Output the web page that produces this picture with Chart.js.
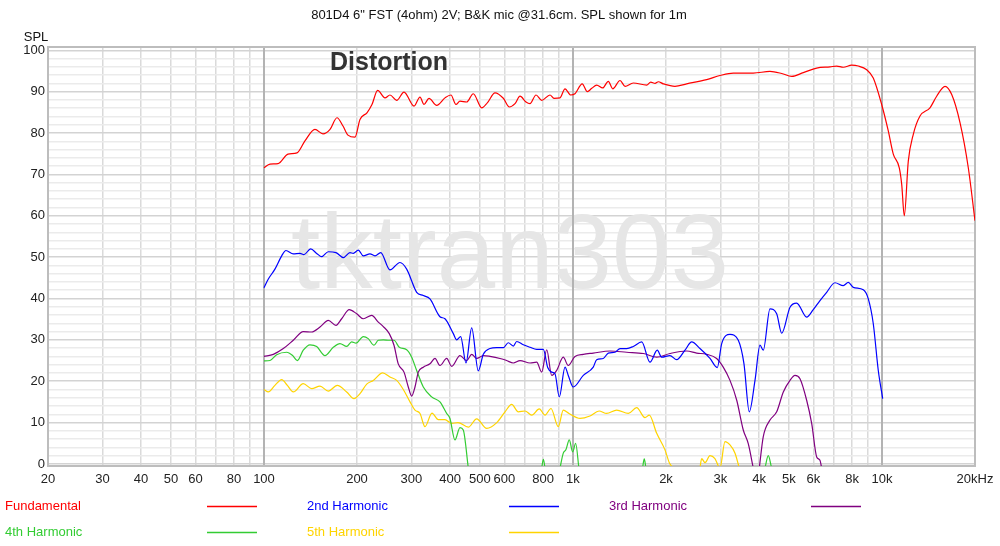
<!DOCTYPE html>
<html lang="en">
<head>
<meta charset="utf-8">
<title>801D4 distortion</title>
<script src="https://cdn.jsdelivr.net/npm/chart.js"></script>
<style>
  body { margin: 0; background: #fff; overflow: hidden; }
  #chart { display: block; }
</style>
</head>
<body>
<canvas id="chart" width="1000" height="546"></canvas>
<script>
// values: frequency in Hz, level in dB SPL
const freqFund = [100,104.6,111,119.6,127.9,135.7,146.2,155.2,163.6,172.3,180.2,187,197,204.5,215.4,223.6,233.3,246.4,255.7,268.8,283.9,305.9,319.8,329.5,342,362.2,385.2,402.8,418.1,430.8,452.9,475.7,506.5,528.1,559.3,595,622.2,649.2,673.9,704.6,725.9,759.2,792.1,842.5,868,907.8,942.3,983.1,1015,1071,1113,1150,1193,1248,1301,1345,1420,1474,1567,1732,1785,1843,1889,1960,2138,2333,2708,2990,3303,3832,4341,4737,5103,5564,6147,6787,7136,7496,7980,8382,8924,9372,9977,10481,10879,11377,11583,11809,12166,12629,13275,14300,15031,15995,16814,17885,19026,20000];
const splFund = [71.6,72.5,72.6,74.9,75.2,78.1,80.9,79.8,80.9,83.7,81.7,79.5,79.0,83.3,84.9,86.9,90.3,88.5,89.2,87.9,89.9,86.5,88.7,86.9,88.4,86.7,88.5,89.2,86.9,87.7,87.5,89.5,86.1,87.3,89.7,88.4,86.3,87.1,88.9,87.5,87.1,89.2,87.9,89.2,88.4,88.5,90.7,89.2,89.5,91.9,90.0,90.8,91.6,90.9,92.5,90.7,92.7,91.3,92.1,91.6,92.3,92.0,92.4,91.9,91.3,91.9,92.9,93.9,94.5,94.5,94.9,94.4,93.7,94.6,95.7,96.0,96.2,95.9,96.4,96.2,95.3,93.3,86.9,80.5,74.9,71.6,67.6,60.0,73.2,79.7,84.1,86.1,88.9,91.3,89.3,82.5,71.6,58.8];

const freq2nd = [100,103.3,108.5,114.1,117.8,124.4,130.8,134.7,141.6,148.1,153.7,161.5,171.0,180.6,189.8,194.5,202.0,209.6,220.3,228.7,238.6,255.7,275.5,289.6,312.0,327.8,344.5,371.1,385.2,410.0,420.5,433.1,450.6,470.1,493.8,512.6,538.8,566.7,595.0,617.5,641.0,657.4,690.6,725.9,763.0,801.6,828.3,853.4,874.6,903.2,942.3,965.5,1002,1080,1163,1193,1253,1301,1367,1420,1492,1567,1669,1775,1874,1937,2060,2166,2304,2422,2576,2776,2931,3029,3222,3428,3576,3720,3882,4029,4129,4341,4563,4737,5039,5296,5705,5993,6300,6622,7046,7496,7780,8074,8700,9031,9372,9728,10053];
const spl2nd = [42.6,44.7,47.1,50.3,51.6,50.8,50.9,50.6,52.0,50.9,50.1,51.3,51.1,49.9,51.1,50.9,51.7,50.3,50.8,50.3,51.1,46.9,48.7,47.1,41.5,40.7,39.9,35.6,35.1,31.5,30.0,30.8,24.4,32.9,22.5,26.5,27.9,28.1,28.1,29.3,28.5,29.6,28.8,28.2,27.7,27.7,23.3,22.2,21.8,16.2,23.4,21.4,18.6,21.4,23.4,25.2,25.5,26.8,27.0,27.9,27.9,28.4,29.5,24.6,27.5,25.8,26.2,25.2,27.5,29.5,27.9,25.5,23.3,29.1,31.3,29.9,24.2,12.6,20.2,28.7,27.5,37.5,36.3,31.6,37.9,38.9,35.5,37.3,39.5,41.5,43.8,43.1,43.9,42.7,42.1,39.9,33.9,22.6,15.8];

const freq3rd = [100,107.2,115.5,124.4,134.0,142.7,151.8,161.5,171.0,178.4,188.8,199.5,209.6,223.1,234.4,243.3,254.4,263.5,272.0,283.9,293.1,300.6,308.1,315.8,327.8,344.5,357.6,371.1,390.2,405.0,430.8,452.9,470.1,487.9,512.6,538.8,580.5,610.2,641.0,673.9,725.9,763.0,792.1,822.2,853.4,885.6,930.2,965.5,1015,1080,1163,1317,1492,1689,1866,2060,2333,2513,2708,2917,3064,3222,3388,3557,3692,3832,3920,4008,4129,4341,4563,4794,5039,5230,5428,5705,5922,6147,6300,6380];
const spl3rd = [26.0,26.5,27.9,29.9,32.0,31.9,33.1,34.7,33.5,35.1,37.3,36.3,35.1,35.9,34.3,33.2,31.5,28.7,24.2,22.2,18.6,16.4,18.6,22.2,23.4,24.2,25.5,23.8,25.5,23.6,26.2,25.0,26.5,25.5,26.2,26.0,25.5,25.0,24.4,25.0,24.4,24.6,22.2,27.6,21.4,22.6,25.8,23.8,26.0,26.5,26.8,27.3,27.0,26.7,25.8,26.7,27.3,26.8,26.5,25.5,23.4,20.2,15.4,8.2,4.9,-1,null,-1,6.6,10.6,12.6,17.4,20.2,21.4,20.6,15.4,9.8,1.7,0.9,-1];

const freq4th = [100,104.6,109.9,118.4,123.8,128.2,134.0,140.9,148.1,157.5,167.6,176.2,185.2,192.2,198.5,209.6,217.5,227.0,234.4,243.3,254.4,263.5,274.1,289.6,300.6,312.0,327.8,348.9,371.1,390.2,399.8,415.0,430.8,441.6,458.4,630,792,802,812,860,907.8,930.2,949.1,972.7,997.8,1020,1045,1400,1679,1701,1722,3000,4181,4285,4395];
const spl4th = [24.9,25.0,26.4,27.0,26.2,25.0,27.5,28.8,28.4,26.2,28.2,29.1,28.4,29.5,29.2,30.8,30.3,28.7,29.9,30.0,29.9,29.9,28.2,27.6,25.8,22.6,18.6,16.2,15.0,12.2,11.0,5.8,8.8,8.2,-1,null,-1,1.1,-1,null,-1,2.6,3.5,5.8,2.9,5.0,-1,null,-1,1.2,-1,null,-1,2.0,-1];

const freq5th = [100,103.3,108.5,114.1,119.0,124.4,134.0,142.7,151.8,161.5,172.6,185.2,195.5,204.5,215.0,225.8,242.2,255.7,268.8,282.4,296.9,308.1,319.8,331.9,349.7,366.5,385.2,405.0,424.5,458.4,487.9,525.7,566.7,602.6,633.4,665.3,699.4,735.3,778.0,811.9,848.8,896.4,930.2,970.7,1054,1135,1214,1285,1385,1510,1607,1710,1766,1866,1985,2050,2111,2350,2576,2609,2674,2776,2880,2990,3104,3222,3345,3454];
const spl5th = [18.0,17.4,19.0,20.4,19.0,17.4,19.4,18.2,18.8,17.6,19.0,17.4,15.8,17.0,19.3,20.2,22.0,21.0,20.2,18.0,15.0,13.0,12.2,9.0,12.3,10.7,10.7,9.8,10.0,8.9,10.9,8.6,10.0,12.6,14.4,12.6,12.8,11.8,13.3,11.8,13.4,9.0,13.0,12.2,11.0,11.6,12.8,12.2,13.0,12.2,13.6,11.2,11.8,7.4,3.4,0.3,-1,null,-1,1.3,0.3,2.0,1.3,-1,5.4,4.6,2.6,-1];

const seriesNames = ['Fundamental', '2nd Harmonic', '3rd Harmonic', '4th Harmonic', '5th Harmonic'];
const seriesColors = ['#ff0000', '#0000ff', '#800080', '#33cc33', '#ffd400'];

// axis grid / labels
const xGridValues = [20,30,40,50,60,70,80,90,100,200,300,400,500,600,700,800,900,1000,2000,3000,4000,5000,6000,7000,8000,9000,10000,20000];
const xDecades = [100, 1000, 10000];
const xLabelValues = [20,30,40,50,60,80,100,200,300,400,500,600,800,1000,2000,3000,4000,5000,6000,8000,10000,20000];
const xLabelTexts = ['20','30','40','50','60','80','100','200','300','400','500','600','800','1k','2k','3k','4k','5k','6k','8k','10k','20kHz'];
const yLabelValues = [0,10,20,30,40,50,60,70,80,90,100];

const chartTitle = '801D4 6" FST (4ohm) 2V; B&K mic @31.6cm. SPL shown for 1m';
const yAxisName = 'SPL';
const overlayTitle = 'Distortion';
const watermark = 'tktran303';

const FONT = '"Liberation Sans", Arial, Helvetica, sans-serif';
Chart.defaults.font.family = FONT;
Chart.defaults.font.size = 13;
Chart.defaults.color = '#222';

function toPoints(freqs, levels) {
  return freqs.map((f, i) => ({ x: f, y: levels[i] }));
}

const allSeries = [
  [freqFund, splFund], [freq2nd, spl2nd], [freq3rd, spl3rd], [freq4th, spl4th], [freq5th, spl5th]
];

const datasets = allSeries.map((s, i) => ({
  label: seriesNames[i],
  data: toPoints(s[0], s[1]),
  borderColor: seriesColors[i],
  backgroundColor: seriesColors[i],
  borderWidth: 1.2,
  pointRadius: 0,
  fill: false,
  spanGaps: false,
  cubicInterpolationMode: 'monotone'
}));

const yGridValues = [];
for (let v = 0; v <= 100; v += 2) yGridValues.push(v);

const decorations = {
  id: 'decorations',
  beforeDatasetsDraw(chart) {
    const ctx = chart.ctx, a = chart.chartArea;
    const xs = chart.scales.x;
    ctx.save();
    // watermark behind the curves
    ctx.fillStyle = '#e6e6e6';
    ctx.font = '105px ' + FONT;
    ctx.textBaseline = 'alphabetic';
    ctx.textAlign = 'left';
    ctx.fillText(watermark, 291, 288);
    // decade lines on top of the dB grid
    ctx.strokeStyle = '#b3b3b3';
    ctx.lineWidth = 2;
    xDecades.forEach(v => {
      const px = Math.round(xs.getPixelForValue(v));
      ctx.beginPath();
      ctx.moveTo(px, a.top);
      ctx.lineTo(px, a.bottom);
      ctx.stroke();
    });
    // frame round the plot
    ctx.strokeStyle = '#bdbdbd';
    ctx.strokeRect(a.left, a.top, a.right - a.left, a.bottom - a.top);
    ctx.restore();
  },
  afterDraw(chart) {
    const ctx = chart.ctx;
    ctx.save();
    ctx.fillStyle = '#111';
    ctx.font = '13px ' + FONT;
    ctx.textAlign = 'center';
    ctx.textBaseline = 'middle';
    ctx.fillText(chartTitle, 499, 15);
    ctx.fillText(yAxisName, 36, 37);

    ctx.fillStyle = '#333';
    ctx.font = 'bold 25px ' + FONT;
    ctx.textAlign = 'left';
    ctx.fillText(overlayTitle, 330, 63);

    // legend: text in colour, then a sample line
    ctx.font = '13px ' + FONT;
    chart.data.datasets.forEach((ds, i) => {
      const col = i % 3, row = Math.floor(i / 3);
      const x0 = 5 + col * 302, y = 506 + row * 26;
      ctx.fillStyle = ds.borderColor;
      ctx.textAlign = 'left';
      ctx.fillText(ds.label, x0, y);
      ctx.strokeStyle = ds.borderColor;
      ctx.lineWidth = 1.5;
      ctx.beginPath();
      ctx.moveTo(x0 + 202, y + 0.5);
      ctx.lineTo(x0 + 252, y + 0.5);
      ctx.stroke();
    });
    ctx.restore();
  }
};

new Chart(document.getElementById('chart'), {
  type: 'line',
  data: { datasets: datasets },
  options: {
    responsive: false,
    animation: false,
    devicePixelRatio: 1,
    layout: { padding: { top: 47, right: 25, bottom: 56, left: 0 } },
    plugins: {
      legend: { display: false },
      tooltip: { enabled: false },
      title: { display: false }
    },
    scales: {
      x: {
        type: 'logarithmic',
        min: 20,
        max: 20000,
        afterBuildTicks: (axis) => { axis.ticks = xGridValues.map(v => ({ value: v })); },
        afterFit: (axis) => { axis.height = 24; },
        border: { display: false },
        grid: {
          drawTicks: false,
          color: '#dadada',
          lineWidth: 1.5
        },
        ticks: {
          autoSkip: false,
          maxRotation: 0,
          minRotation: 0,
          padding: 6,
          color: '#222',
          callback: (v) => {
            const k = xLabelValues.indexOf(v);
            return k >= 0 ? xLabelTexts[k] : '';
          }
        }
      },
      y: {
        type: 'linear',
        min: -0.5,
        max: 100.8,
        afterBuildTicks: (axis) => { axis.ticks = yGridValues.map(v => ({ value: v })); },
        afterFit: (axis) => { axis.width = 48; },
        border: { display: false },
        grid: {
          drawTicks: false,
          color: (c) => yLabelValues.includes(c.tick.value) ? '#d3d3d3' : '#ebebeb',
          lineWidth: 1.5
        },
        ticks: {
          autoSkip: false,
          padding: 3,
          color: '#222',
          callback: (v) => yLabelValues.includes(v) ? String(v) : ''
        }
      }
    }
  },
  plugins: [decorations]
});
</script>
</body>
</html>
